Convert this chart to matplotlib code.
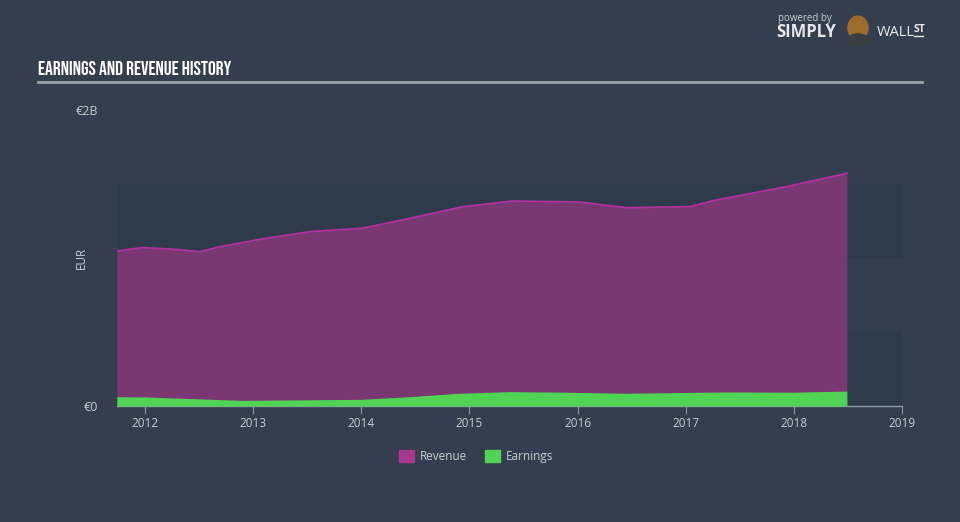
import matplotlib
matplotlib.use("Agg")
import matplotlib.pyplot as plt
from matplotlib.patches import Rectangle, Ellipse

# ---- data (EUR billions) ----
rev_years = [2011.74, 2011.97, 2012.25, 2012.51, 2012.69, 2013.06, 2013.52, 2014.01,
             2014.45, 2014.94, 2015.40, 2016.02, 2016.45, 2017.04, 2017.25, 2017.93, 2018.49]
revenue = [1.047, 1.070, 1.060, 1.043, 1.076, 1.126, 1.178, 1.201,
           1.268, 1.347, 1.385, 1.378, 1.340, 1.347, 1.387, 1.482, 1.572]
earn_years = [2011.74, 2012.0, 2012.9, 2014.0, 2014.45, 2014.9, 2015.37, 2015.8,
              2016.45, 2017.37, 2017.98, 2018.49]
earnings = [0.063, 0.061, 0.038, 0.045, 0.063, 0.086, 0.097, 0.094,
            0.086, 0.095, 0.093, 0.101]
year_ticks = [2012, 2013, 2014, 2015, 2016, 2017, 2018, 2019]
y_ticks = [0, 2]
y_tick_labels = ["€0", "€2B"]

BG = "#333f4f"
BAND = "#2e3b4a"
REV_FILL = "#7a3873"
REV_LINE = "#b2309f"
EARN = "#4fd453"
TXT = "#c9cdd2"
UI = ["Open Sans", "DejaVu Sans"]

fig = plt.figure(figsize=(9.6, 5.22), dpi=100, facecolor=BG)
ax = fig.add_axes([117/960, 116/522, 785/960, 296/522])
ax.set_facecolor(BG)
ax.set_xlim(2011.741, 2018.996)
ax.set_ylim(0, 2)

# background bands
for lo, hi in [(0, 0.5), (1.0, 1.5)]:
    ax.axhspan(lo, hi, color=BAND, zorder=0, lw=0)

ax.fill_between(rev_years, 0, revenue, color=REV_FILL, lw=0, zorder=2)
ax.plot(rev_years, revenue, color=REV_LINE, lw=1.3, zorder=3)
ax.fill_between(earn_years, 0, earnings, color=EARN, lw=0, zorder=4)

for s in ["top", "right", "left"]:
    ax.spines[s].set_visible(False)
ax.spines["bottom"].set_color("#8e98a3")
ax.spines["bottom"].set_linewidth(1)
ax.set_xticks(year_ticks)
ax.set_xticklabels([str(y) for y in year_ticks], fontsize=8.5, color=TXT, family=UI)
ax.tick_params(axis="x", length=6, color="#8e98a3", pad=2)
ax.set_yticks(y_ticks)
ax.set_yticklabels(y_tick_labels, fontsize=9, color=TXT, family=UI)
ax.tick_params(axis="y", length=0, pad=14)
ax.text(-0.045, 0.5, "EUR", transform=ax.transAxes, rotation=90, ha="center", va="center",
        fontsize=8.5, color=TXT, family=UI)

# title
fig.text(38/960, 1 - 68/522, "EARNINGS AND REVENUE HISTORY", fontsize=14,
         color="white", family=["Bebas Neue", "Oswald", "Barlow Condensed", "DejaVu Sans"],
         va="center", ha="left")
fig.add_artist(plt.Line2D([38/960, 922/960], [1 - 81.5/522, 1 - 81.5/522], color="#9aa1a9", lw=2))

# branding
fig.text(778/960, 1 - 18/522, "powered by", fontsize=7, color="#c9cdd2", ha="left", va="center",
         family=UI)
fig.text(776/960, 1 - 32/522, "SIMPLY", fontsize=12, fontweight="bold", color="#e6e8eb",
         ha="left", va="center", family=UI)
fig.text(877/960, 1 - 32/522, "WALL", fontsize=10.5, color="#e6e8eb", ha="left", va="center",
         family=UI)
fig.text(914/960, 1 - 30/522, "ST", fontsize=7.5, fontweight="bold", color="#e6e8eb",
         ha="left", va="center", family=UI)
fig.add_artist(plt.Line2D([914/960, 923/960], [1 - 36/522, 1 - 36/522], color="#e6e8eb", lw=1))
fig.patches.append(Ellipse((858/960, 1 - 28/522), 20/960, 24/522, transform=fig.transFigure,
                           color="#9c6b2c", zorder=1))
fig.patches.append(Ellipse((858/960, 1 - 40/522), 22/960, 12/522, transform=fig.transFigure,
                           color="#3a3d42", zorder=1))

# legend
ly = 1 - 460/522
fig.patches.append(Rectangle((399/960, 1 - 462/522), 15/960, 12/522, transform=fig.transFigure,
                             color="#a8388f"))
fig.text(420/960, ly, "Revenue", fontsize=8.5, color=TXT, va="baseline", ha="left", family=UI)
fig.patches.append(Rectangle((485/960, 1 - 462/522), 15/960, 12/522, transform=fig.transFigure,
                             color=EARN))
fig.text(506/960, ly, "Earnings", fontsize=8.5, color=TXT, va="baseline", ha="left", family=UI)

fig.savefig("out.png", dpi=100, facecolor=BG)
